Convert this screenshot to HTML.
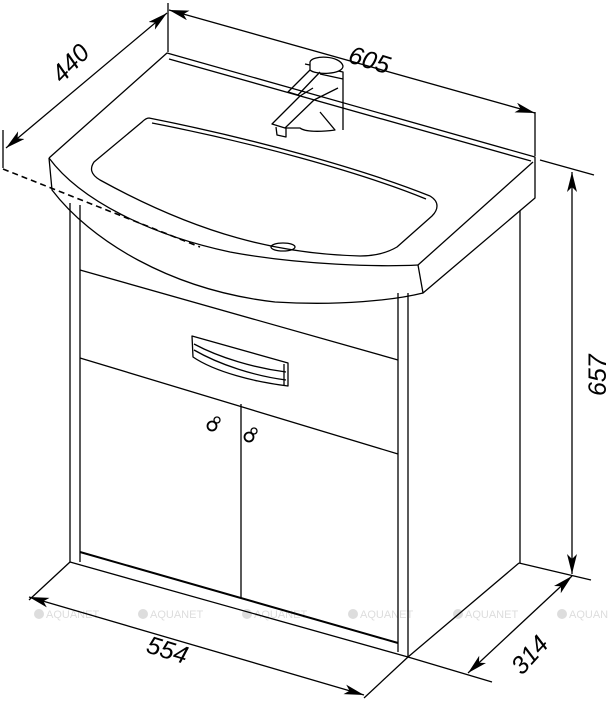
<!DOCTYPE html>
<html><head><meta charset="utf-8"><style>
html,body{margin:0;padding:0;background:#fff;}
svg{display:block;}
text{font-family:"Liberation Sans",Arial,sans-serif;}
</style></head><body>
<svg width="608" height="704" viewBox="0 0 608 704" xmlns="http://www.w3.org/2000/svg">
<defs>
<marker id="a" viewBox="0 0 20 10" refX="20" refY="5" markerWidth="20" markerHeight="10" markerUnits="userSpaceOnUse" orient="auto-start-reverse">
<path d="M0,0 L20,5 L0,10 L5,5 Z" fill="#000"/>
</marker>
</defs>
<g fill="none" stroke="#000" stroke-width="1.3" stroke-linejoin="round">
<g fill="#ddd" stroke="none" font-size="11">
<circle cx="39" cy="614" r="5"/><text x="46" y="618" fill="#ddd">AQUANET</text>
<circle cx="143" cy="614" r="5"/><text x="150" y="618" fill="#ddd">AQUANET</text>
<circle cx="247" cy="614" r="5"/><text x="254" y="618" fill="#ddd">AQUANET</text>
<circle cx="353" cy="614" r="5"/><text x="360" y="618" fill="#ddd">AQUANET</text>
<circle cx="458" cy="614" r="5"/><text x="465" y="618" fill="#ddd">AQUANET</text>
<circle cx="562" cy="614" r="5"/><text x="569" y="618" fill="#ddd">AQUANET</text>
</g>

<line x1="168" y1="3" x2="168" y2="52"/>
<line x1="535" y1="112" x2="535" y2="156"/>
<line x1="3" y1="130" x2="3" y2="168"/>
<line x1="540" y1="160" x2="594" y2="175"/>
<line x1="519" y1="563" x2="591" y2="580"/>
<line x1="408" y1="657" x2="492" y2="682"/>
<line x1="70" y1="562" x2="29" y2="600"/>
<line x1="408" y1="657" x2="364" y2="698"/>
<line x1="519" y1="563" x2="408" y2="657"/>

<line x1="169" y1="10" x2="535" y2="113" marker-start="url(#a)" marker-end="url(#a)"/>
<line x1="167" y1="13" x2="6" y2="148" marker-start="url(#a)" marker-end="url(#a)"/>
<line x1="572" y1="172" x2="572" y2="574" marker-start="url(#a)" marker-end="url(#a)"/>
<line x1="572" y1="576" x2="468" y2="673" marker-start="url(#a)" marker-end="url(#a)"/>
<line x1="29" y1="597" x2="364" y2="695" marker-start="url(#a)" marker-end="url(#a)"/>

<line x1="3" y1="169" x2="200" y2="247" stroke-dasharray="6,4" stroke-width="1.6"/>

<line x1="70" y1="203" x2="70" y2="562"/>
<line x1="80" y1="205" x2="80" y2="562"/>
<line x1="70" y1="562" x2="408" y2="657"/>
<line x1="398" y1="293" x2="398" y2="652"/>
<line x1="408" y1="293" x2="408" y2="657"/>
<line x1="520" y1="200" x2="520" y2="563"/>
<line x1="80" y1="270" x2="398" y2="360"/>
<line x1="80" y1="358" x2="398" y2="454"/>
<line x1="80" y1="552" x2="398" y2="643" stroke-width="2"/>
<line x1="241" y1="404" x2="241" y2="598"/>
<path d="M192,336 L288,363 L288,386 C255,382 215,372 193,357 Z"/>
<path d="M194,344 C220,358 255,368 286,372"/>
<path d="M194,350 C220,365 255,376 286,380"/>
<line x1="284" y1="364" x2="284" y2="385"/>
<circle cx="212" cy="426" r="4.5" stroke-width="1.8"/><circle cx="217" cy="420" r="3"/>
<circle cx="249" cy="437" r="4.5" stroke-width="1.8"/><circle cx="254" cy="431" r="3"/>

<path d="M49,158 L167,53 L535,157 L535,198 L423,293 L418,265" fill="#fff"/>
<line x1="169" y1="59" x2="531" y2="161"/>
<path d="M533,162 L418,265"/>
<path d="M49,158 C80,200 150,235 230,252 C300,265 380,267 418,265"/>
<path d="M49,158 L52,190 C90,240 170,290 275,302 C340,306 395,300 423,293"/>
<path d="M149,118 C250,138 360,168 430,196 C440,202 438,210 432,216 L397,247 C385,254 372,256 360,256 C280,254 200,235 100,180 C90,174 90,168 94,162 L142,122 C145,119 147,118 149,118 Z"/>
<path d="M152,123 C250,142 360,172 426,199"/>
<ellipse cx="283" cy="247" rx="12" ry="4"/>
<path d="M305,64 L343,72 L343,130" />
<path d="M310,62 C312,55 340,55 343,66 C343,75 315,75 310,70 Z" fill="#fff"/>
<path d="M310,70 L288,92 L298,95 L320,72"/>
<path d="M320,74 L343,79"/>
<path d="M313,88 L300,96 L272,124 L285,128 L314,100 L338,88"/>
<path d="M285,128 L300,128 C305,132 320,132 335,130 L320,112"/>
<path d="M276,127 L277,135 L286,137 L286,128"/>
</g>

<g font-size="25" fill="#000" font-style="italic">
<text x="0" y="0" transform="translate(347,62) rotate(17)">605</text>
<text x="0" y="0" transform="translate(62,84) rotate(-46)">440</text>
<text x="0" y="0" transform="translate(606,396) rotate(-90)">657</text>
<text x="0" y="0" transform="translate(522,676) rotate(-48)">314</text>
<text x="0" y="0" transform="translate(145,652) rotate(17)">554</text>
</g>
</svg>
</body></html>
